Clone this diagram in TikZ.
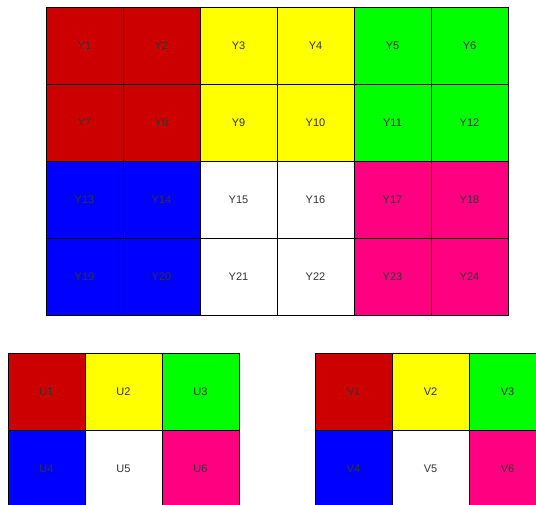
\documentclass[tikz,border=0pt]{standalone}
\usepackage{fontspec}
\setmainfont{Liberation Sans}
\usetikzlibrary{positioning}
\definecolor{cellred}{HTML}{CC0000}
\definecolor{cellyellow}{HTML}{FFFF00}
\definecolor{cellgreen}{HTML}{00FF00}
\definecolor{cellblue}{HTML}{0000FF}
\definecolor{cellwhite}{HTML}{FFFFFF}
\definecolor{cellpink}{HTML}{FF0080}
\definecolor{labelgray}{HTML}{333333}

\begin{document}
\begin{tikzpicture}[
  x=1pt, y=1pt,
  cell/.style={draw=black, line width=.8pt, anchor=north west,
               minimum width=77pt, minimum height=77pt,
               inner sep=0pt, outer sep=0pt, text=labelgray,
               font=\fontsize{11}{13}\selectfont}
]
\clip (0,0) rectangle (536,-505);

% Large grid Y1 ... Y24
\foreach \c [count=\i] in {cellred,cellred,cellyellow,cellyellow,cellgreen,cellgreen,
                           cellred,cellred,cellyellow,cellyellow,cellgreen,cellgreen,
                           cellblue,cellblue,cellwhite,cellwhite,cellpink,cellpink,
                           cellblue,cellblue,cellwhite,cellwhite,cellpink,cellpink} {
  \pgfmathtruncatemacro{\col}{mod(\i-1,6)}
  \pgfmathtruncatemacro{\row}{div(\i-1,6)}
  \node[cell, fill=\c] (y\i) at (46+77*\col, -7-77*\row) {Y\i};
}

% Small grid U1 ... U6
\foreach \c [count=\i] in {cellred,cellyellow,cellgreen,cellblue,cellwhite,cellpink} {
  \pgfmathtruncatemacro{\col}{mod(\i-1,3)}
  \pgfmathtruncatemacro{\row}{div(\i-1,3)}
  \node[cell, fill=\c] (u\i) at (8+77*\col, -353-77*\row) {U\i};
}

% Small grid V1 ... V6
\foreach \c [count=\i] in {cellred,cellyellow,cellgreen,cellblue,cellwhite,cellpink} {
  \pgfmathtruncatemacro{\col}{mod(\i-1,3)}
  \pgfmathtruncatemacro{\row}{div(\i-1,3)}
  \node[cell, fill=\c] (v\i) at (315+77*\col, -353-77*\row) {V\i};
}

\end{tikzpicture}
\end{document}
